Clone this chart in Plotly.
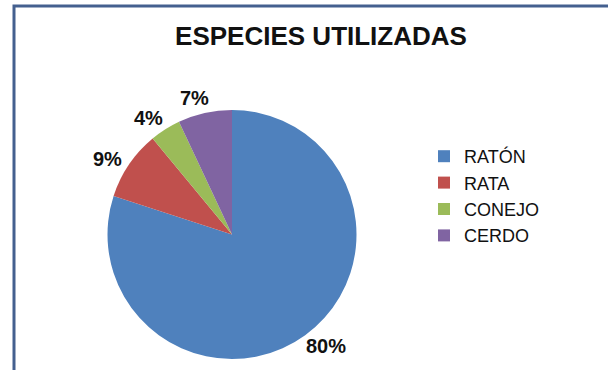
import math
import plotly.graph_objects as go

W, H = 608, 370
labels = ["RATÓN", "RATA", "CONEJO", "CERDO"]
values = [80, 9, 4, 7]
colors = ["#4F81BD", "#C0504D", "#9BBB59", "#8064A2"]
title = "ESPECIES UTILIZADAS"

# pie domain in pixels (margins are zero, so paper == page)
PX0, PX1, PY0, PY1 = 107, 357, 110, 359
fig = go.Figure(go.Pie(
    labels=labels, values=values, sort=False, direction="clockwise", rotation=0,
    marker=dict(colors=colors, line=dict(width=0)),
    textinfo="none",
    domain=dict(x=[PX0/W, PX1/W], y=[1-PY1/H, 1-PY0/H]),
    hoverinfo="label+percent",
))

# percentage labels placed just outside each slice, derived from the values
cx, cy = (PX0 + PX1) / 2, (PY0 + PY1) / 2
R = min(PX1 - PX0, PY1 - PY0) / 2
total = sum(values)
cum = 0
annotations = []
fs = 20
for v in values:
    mid = (cum + v / 2) / total * 2 * math.pi - math.radians(2)
    cum += v
    dx, dy = math.sin(mid), -math.cos(mid)
    txt = f"{round(100 * v / total)}%"
    halfw = (len(txt) - 1) * 0.556 * fs / 2 + 0.889 * fs / 2
    halfh = 0.45 * fs
    gx = cx + dx * (R + 8) + dx * halfw
    gy = cy + dy * (R + 8) + dy * halfh
    annotations.append(dict(x=gx / W, y=1 - gy / H, xref="paper", yref="paper",
                            text=f"<b>{txt}</b>", showarrow=False,
                            xanchor="center", yanchor="middle",
                            font=dict(family="Arial, Liberation Sans", size=fs, color="#111111")))

fig.update_layout(
    width=W, height=H, margin=dict(l=0, r=0, t=0, b=0),
    paper_bgcolor="white", plot_bgcolor="white",
    title=dict(text="<b>" + title + "</b>", x=321/W, xanchor="center", y=1-36/H, yanchor="middle",
               font=dict(family="Arial, Liberation Sans", size=26, color="#111111")),
    showlegend=True,
    legend=dict(x=424/W, y=1-138/H, xanchor="left", yanchor="top",
                font=dict(family="Arial, Liberation Sans", size=18, color="#111111"),
                itemwidth=30, bgcolor="rgba(0,0,0,0)", tracegroupgap=0),
    annotations=annotations,
    shapes=[dict(type="rect", xref="paper", yref="paper",
                 x0=14/W, x1=1.02, y0=-0.02, y1=1-6/H,
                 line=dict(color="#44608F", width=3), fillcolor="rgba(0,0,0,0)", layer="below")],
)

fig.write_html("out.html")
